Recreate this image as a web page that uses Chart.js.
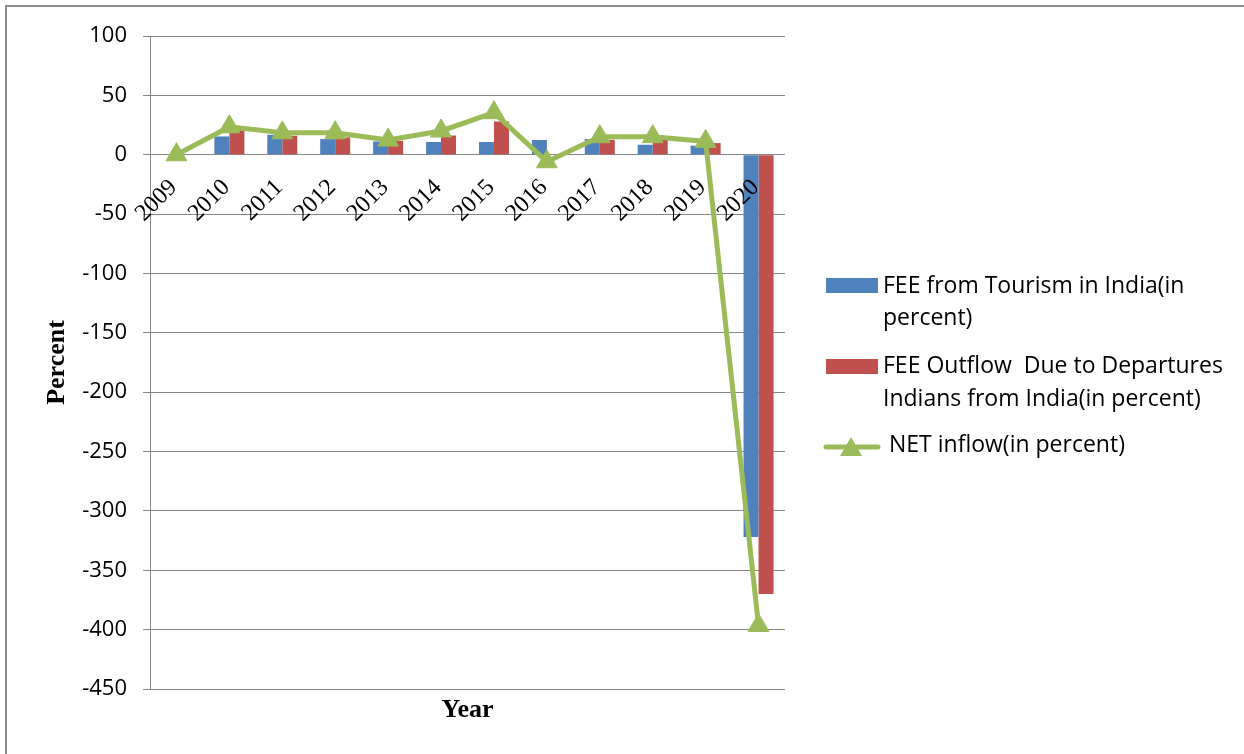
<!DOCTYPE html>
<html>
<head>
<meta charset="utf-8">
<script src="https://cdn.jsdelivr.net/npm/chart.js@4.4.1/dist/chart.umd.min.js"></script>
<style>
  html, body { margin: 0; padding: 0; background: #fff; overflow: hidden; }
  #wrap { position: relative; width: 1244px; height: 754px; }
  #frame { position: absolute; left: 5px; top: 5px; width: 1300px; height: 800px;
           border-left: 2px solid #8c8c8c; border-top: 2px solid #8c8c8c; pointer-events: none; }
  canvas { position: absolute; left: 0; top: 0; }
</style>
</head>
<body>
<div id="wrap">
  <canvas id="chart" width="1244" height="754"></canvas>
  <div id="frame"></div>
</div>
<script>
// Year-on-year change, percent
const years = ['2009', '2010', '2011', '2012', '2013', '2014', '2015', '2016', '2017', '2018', '2019', '2020'];
const feeTourism = [0, 15.4, 16.8, 13.2, 11.2, 10.7, 10.7, 12.4, 13.2, 8.4, 7.6, -322];
const feeOutflow = [0, 20.5, 16.0, 14.6, 11.8, 16.2, 28.0, 0, 12.6, 12.6, 9.8, -370];
const netInflow = [0, 23.6, 18.5, 18.5, 12.4, 20.0, 35.4, -5.9, 15.2, 15.2, 11.2, -396.5];
const yTicks = [100, 50, 0, -50, -100, -150, -200, -250, -300, -350, -400, -450];

const seriesNames = [
  'FEE from Tourism in India(in percent)',
  'FEE Outflow  Due to Departures Indians from India(in percent)',
  'NET inflow(in percent)'
];
// wrapped legend text, one array of lines per series
const legendLines = [
  ['FEE from Tourism in India(in', 'percent)'],
  ['FEE Outflow  Due to Departures', 'Indians from India(in percent)'],
  ['NET inflow(in percent)']
];

const BLUE = '#4f81bd';
const RED = '#c0504d';
const GREEN = '#9bbb59';
const GRID = '#868686';

// Year labels sit just under the zero line, slanted at 45 degrees
const yearLabels = {
  id: 'yearLabels',
  afterDatasetsDraw(chart) {
    const { ctx, scales: { x, y } } = chart;
    const y0 = y.getPixelForValue(0);
    ctx.save();
    ctx.font = '24px "Liberation Serif"';
    ctx.fillStyle = '#000';
    ctx.textAlign = 'right';
    ctx.textBaseline = 'middle';
    years.forEach((yr, i) => {
      const cx = x.getPixelForValue(i);
      ctx.save();
      ctx.translate(cx - 3, y0 + 29);
      ctx.rotate(-Math.PI / 4);
      ctx.fillText(yr, 0, 0);
      ctx.restore();
    });
    ctx.restore();
  }
};

// Legend on the right with wrapped entries
const sideLegend = {
  id: 'sideLegend',
  afterDraw(chart) {
    const ctx = chart.ctx;
    ctx.save();
    ctx.font = '23px "Open Sans"';
    ctx.textAlign = 'left';
    ctx.textBaseline = 'alphabetic';

    // bar entries
    ctx.fillStyle = BLUE;
    ctx.fillRect(826, 278, 52, 15);
    ctx.fillStyle = RED;
    ctx.fillRect(826, 359, 52, 15);

    ctx.fillStyle = '#000';
    ctx.fillText(legendLines[0][0], 883, 293);
    ctx.fillText(legendLines[0][1], 883, 325);
    ctx.fillText(legendLines[1][0], 883, 373);
    ctx.fillText(legendLines[1][1], 883, 406);

    // line entry
    ctx.strokeStyle = GREEN;
    ctx.lineWidth = 5;
    ctx.lineCap = 'round';
    ctx.beginPath();
    ctx.moveTo(826, 447);
    ctx.lineTo(878, 447);
    ctx.stroke();
    ctx.fillStyle = GREEN;
    ctx.beginPath();
    ctx.moveTo(851, 437);
    ctx.lineTo(862, 456);
    ctx.lineTo(840, 456);
    ctx.closePath();
    ctx.fill();

    ctx.fillStyle = '#000';
    ctx.fillText(legendLines[2][0], 889, 452);
    ctx.restore();
  }
};

new Chart(document.getElementById('chart'), {
  type: 'bar',
  data: {
    labels: years,
    datasets: [
      {
        type: 'line',
        label: seriesNames[2],
        data: netInflow,
        borderColor: GREEN,
        backgroundColor: GREEN,
        borderWidth: 5,
        pointStyle: 'triangle',
        pointRadius: 12,
        pointBorderWidth: 1,
        pointBackgroundColor: GREEN,
        pointBorderColor: GREEN,
        tension: 0,
        order: 0
      },
      {
        label: seriesNames[0],
        data: feeTourism,
        backgroundColor: BLUE,
        categoryPercentage: 0.567,
        barPercentage: 1.0,
        order: 1
      },
      {
        label: seriesNames[1],
        data: feeOutflow,
        backgroundColor: RED,
        categoryPercentage: 0.567,
        barPercentage: 1.0,
        order: 2
      }
    ]
  },
  options: {
    responsive: false,
    animation: false,
    layout: { padding: { left: 0, right: 459, top: 36, bottom: 0 } },
    plugins: {
      legend: { display: false },
      tooltip: { enabled: false }
    },
    scales: {
      x: {
        grid: { display: false, drawTicks: false },
        border: { display: false },
        ticks: { display: false },
        title: {
          display: true,
          text: 'Year',
          font: { family: 'Liberation Serif', size: 26, weight: 'bold' },
          color: '#000',
          padding: { top: 0, bottom: 28 }
        },
        afterFit(scale) { scale.height = 65; }
      },
      y: {
        min: -450,
        max: 100,
        afterBuildTicks(scale) { scale.ticks = yTicks.map(v => ({ value: v })); },
        grid: { color: GRID, lineWidth: 1, tickLength: 7, drawTicks: true },
        border: { display: true, color: GRID, width: 1 },
        ticks: {
          color: '#000',
          padding: 16,
          font: { family: 'Open Sans', size: 22 }
        },
        title: {
          display: true,
          text: 'Percent',
          font: { family: 'Liberation Serif', size: 26, weight: 'bold' },
          color: '#000',
          padding: { top: 42, bottom: 0 }
        },
        afterFit(scale) { scale.width = 150; }
      }
    }
  },
  plugins: [yearLabels, sideLegend]
});
</script>
</body>
</html>
